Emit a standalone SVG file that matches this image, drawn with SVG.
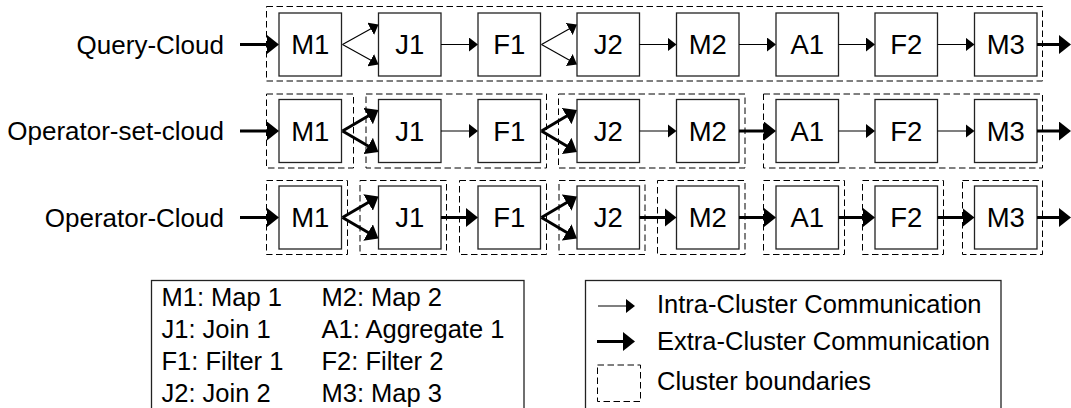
<svg xmlns="http://www.w3.org/2000/svg" width="1071" height="408" viewBox="0 0 1071 408">
<style>
text{font-family:"Liberation Sans",Arial,sans-serif;fill:#000}
.lbl{font-size:26px;text-anchor:end}
.op{font-size:27.5px;text-anchor:middle}
.lg{font-size:25.5px}
.box{fill:#fff;stroke:#222;stroke-width:1.3}
.cl{fill:none;stroke:#000;stroke-width:1;stroke-dasharray:6.5,3.5}
.thin{fill:none;stroke:#000;stroke-width:1.1;marker-end:url(#ah)}
.thick{fill:none;stroke:#000;stroke-width:3;marker-end:url(#AH)}
.frame{fill:#fff;stroke:#222;stroke-width:1.3}
</style>
<defs>
<marker id="ah" markerUnits="userSpaceOnUse" viewBox="0 0 9 14" markerWidth="9" markerHeight="14" refX="5" refY="7" orient="auto"><path d="M0,0 L9,7 L0,14 z" fill="#000"/></marker>
<marker id="AH" markerUnits="userSpaceOnUse" viewBox="0 0 12 19" markerWidth="12" markerHeight="19" refX="8" refY="9.5" orient="auto"><path d="M0,0 L12,9.5 L0,19 z" fill="#000"/></marker>
</defs>
<rect width="1071" height="408" fill="#fff"/>

<g id="row-labels">
<text class="lbl" x="224" y="53.5">Query-Cloud</text>
<text class="lbl" x="224" y="140">Operator-set-cloud</text>
<text class="lbl" x="224" y="226.5">Operator-Cloud</text>
</g>

<g id="clusters">
<rect class="cl" x="266.5" y="6.5" width="776" height="74.5"/>
<rect class="cl" x="266.5" y="94" width="87" height="74"/>
<rect class="cl" x="366" y="94" width="180.5" height="74"/>
<rect class="cl" x="558.5" y="94" width="186.5" height="74"/>
<rect class="cl" x="763.5" y="94" width="279" height="74"/>
<rect class="cl" x="266.5" y="180.5" width="81" height="74"/>
<rect class="cl" x="360" y="180.5" width="86.5" height="74"/>
<rect class="cl" x="459.5" y="180.5" width="87" height="74"/>
<rect class="cl" x="559" y="180.5" width="86" height="74"/>
<rect class="cl" x="657.5" y="180.5" width="87.5" height="74"/>
<rect class="cl" x="763.5" y="180.5" width="81" height="74"/>
<rect class="cl" x="862.5" y="180.5" width="81" height="74"/>
<rect class="cl" x="962.5" y="180.5" width="80" height="74"/>
</g>

<g id="r1-M1"><rect class="box" x="279" y="13" width="62.5" height="63"/><text class="op" x="310.25" y="54.3">M1</text></g>
<g id="r1-J1"><rect class="box" x="378.5" y="13" width="62.5" height="63"/><text class="op" x="409.75" y="54.3">J1</text></g>
<g id="r1-F1"><rect class="box" x="478" y="13" width="62.5" height="63"/><text class="op" x="509.25" y="54.3">F1</text></g>
<g id="r1-J2"><rect class="box" x="577" y="13" width="62.5" height="63"/><text class="op" x="608.25" y="54.3">J2</text></g>
<g id="r1-M2"><rect class="box" x="676.5" y="13" width="62.5" height="63"/><text class="op" x="707.75" y="54.3">M2</text></g>
<g id="r1-A1"><rect class="box" x="776" y="13" width="62.5" height="63"/><text class="op" x="807.25" y="54.3">A1</text></g>
<g id="r1-F2"><rect class="box" x="875" y="13" width="62.5" height="63"/><text class="op" x="906.25" y="54.3">F2</text></g>
<g id="r1-M3"><rect class="box" x="974.5" y="13" width="62.5" height="63"/><text class="op" x="1005.75" y="54.3">M3</text></g>

<g id="r2-M1"><rect class="box" x="279" y="99.5" width="62.5" height="63"/><text class="op" x="310.25" y="140.8">M1</text></g>
<g id="r2-J1"><rect class="box" x="378.5" y="99.5" width="62.5" height="63"/><text class="op" x="409.75" y="140.8">J1</text></g>
<g id="r2-F1"><rect class="box" x="478" y="99.5" width="62.5" height="63"/><text class="op" x="509.25" y="140.8">F1</text></g>
<g id="r2-J2"><rect class="box" x="577" y="99.5" width="62.5" height="63"/><text class="op" x="608.25" y="140.8">J2</text></g>
<g id="r2-M2"><rect class="box" x="676.5" y="99.5" width="62.5" height="63"/><text class="op" x="707.75" y="140.8">M2</text></g>
<g id="r2-A1"><rect class="box" x="776" y="99.5" width="62.5" height="63"/><text class="op" x="807.25" y="140.8">A1</text></g>
<g id="r2-F2"><rect class="box" x="875" y="99.5" width="62.5" height="63"/><text class="op" x="906.25" y="140.8">F2</text></g>
<g id="r2-M3"><rect class="box" x="974.5" y="99.5" width="62.5" height="63"/><text class="op" x="1005.75" y="140.8">M3</text></g>

<g id="r3-M1"><rect class="box" x="279" y="186" width="62.5" height="63"/><text class="op" x="310.25" y="227.3">M1</text></g>
<g id="r3-J1"><rect class="box" x="378.5" y="186" width="62.5" height="63"/><text class="op" x="409.75" y="227.3">J1</text></g>
<g id="r3-F1"><rect class="box" x="478" y="186" width="62.5" height="63"/><text class="op" x="509.25" y="227.3">F1</text></g>
<g id="r3-J2"><rect class="box" x="577" y="186" width="62.5" height="63"/><text class="op" x="608.25" y="227.3">J2</text></g>
<g id="r3-M2"><rect class="box" x="676.5" y="186" width="62.5" height="63"/><text class="op" x="707.75" y="227.3">M2</text></g>
<g id="r3-A1"><rect class="box" x="776" y="186" width="62.5" height="63"/><text class="op" x="807.25" y="227.3">A1</text></g>
<g id="r3-F2"><rect class="box" x="875" y="186" width="62.5" height="63"/><text class="op" x="906.25" y="227.3">F2</text></g>
<g id="r3-M3"><rect class="box" x="974.5" y="186" width="62.5" height="63"/><text class="op" x="1005.75" y="227.3">M3</text></g>

<g id="connectors">
<!-- row 1 -->
<path class="thick" d="M240,44.5 H275"/>
<path class="thin" d="M342.5,44.5 L375,26.4"/>
<path class="thin" d="M342.5,44.5 L375,62.6"/>
<path class="thin" d="M441,44.5 H474"/>
<path class="thin" d="M541.5,44.5 L573.5,26.5"/>
<path class="thin" d="M541.5,44.5 L573.5,62.5"/>
<path class="thin" d="M639.5,44.5 H672.5"/>
<path class="thin" d="M739,44.5 H772"/>
<path class="thin" d="M838.5,44.5 H871"/>
<path class="thin" d="M937.5,44.5 H970.5"/>
<path class="thick" d="M1037,44.5 H1067"/>
<!-- row 2 -->
<path class="thick" d="M240,131 H275"/>
<path class="thick" d="M342.5,131 L375,112"/>
<path class="thick" d="M342.5,131 L375,150"/>
<path class="thin" d="M441,131 H474"/>
<path class="thick" d="M541.5,131 L573.5,112"/>
<path class="thick" d="M541.5,131 L573.5,150"/>
<path class="thin" d="M639.5,131 H672.5"/>
<path class="thick" d="M739,131 H772"/>
<path class="thin" d="M838.5,131 H871"/>
<path class="thin" d="M937.5,131 H970.5"/>
<path class="thick" d="M1037,131 H1067"/>
<!-- row 3 -->
<path class="thick" d="M240,217.5 H275"/>
<path class="thick" d="M342.5,217.5 L375,198.5"/>
<path class="thick" d="M342.5,217.5 L375,236.5"/>
<path class="thick" d="M441,217.5 H474"/>
<path class="thick" d="M541.5,217.5 L573.5,198.5"/>
<path class="thick" d="M541.5,217.5 L573.5,236.5"/>
<path class="thick" d="M639.5,217.5 H672.5"/>
<path class="thick" d="M739,217.5 H772"/>
<path class="thick" d="M838.5,217.5 H871"/>
<path class="thick" d="M937.5,217.5 H970.5"/>
<path class="thick" d="M1037,217.5 H1067"/>
</g>

<g id="legend-operators">
<rect class="frame" x="151.5" y="280.5" width="372.5" height="140"/>
<text class="lg" x="161.5" y="306">M1: Map 1</text>
<text class="lg" x="161.5" y="338">J1: Join 1</text>
<text class="lg" x="161.5" y="370">F1: Filter 1</text>
<text class="lg" x="161.5" y="402">J2: Join 2</text>
<text class="lg" x="321.5" y="306">M2: Map 2</text>
<text class="lg" x="321.5" y="338">A1: Aggregate 1</text>
<text class="lg" x="321.5" y="370">F2: Filter 2</text>
<text class="lg" x="321.5" y="402">M3: Map 3</text>
</g>

<g id="legend-key">
<rect class="frame" x="585.5" y="280.5" width="415.5" height="140"/>
<path class="thin" d="M598,306 H631"/>
<path class="thick" d="M597,341.5 H631"/>
<rect class="cl" x="597.5" y="365" width="43" height="36.5"/>
<text class="lg" x="657" y="313">Intra-Cluster Communication</text>
<text class="lg" x="657" y="350">Extra-Cluster Communication</text>
<text class="lg" x="657" y="390">Cluster boundaries</text>
</g>
</svg>
